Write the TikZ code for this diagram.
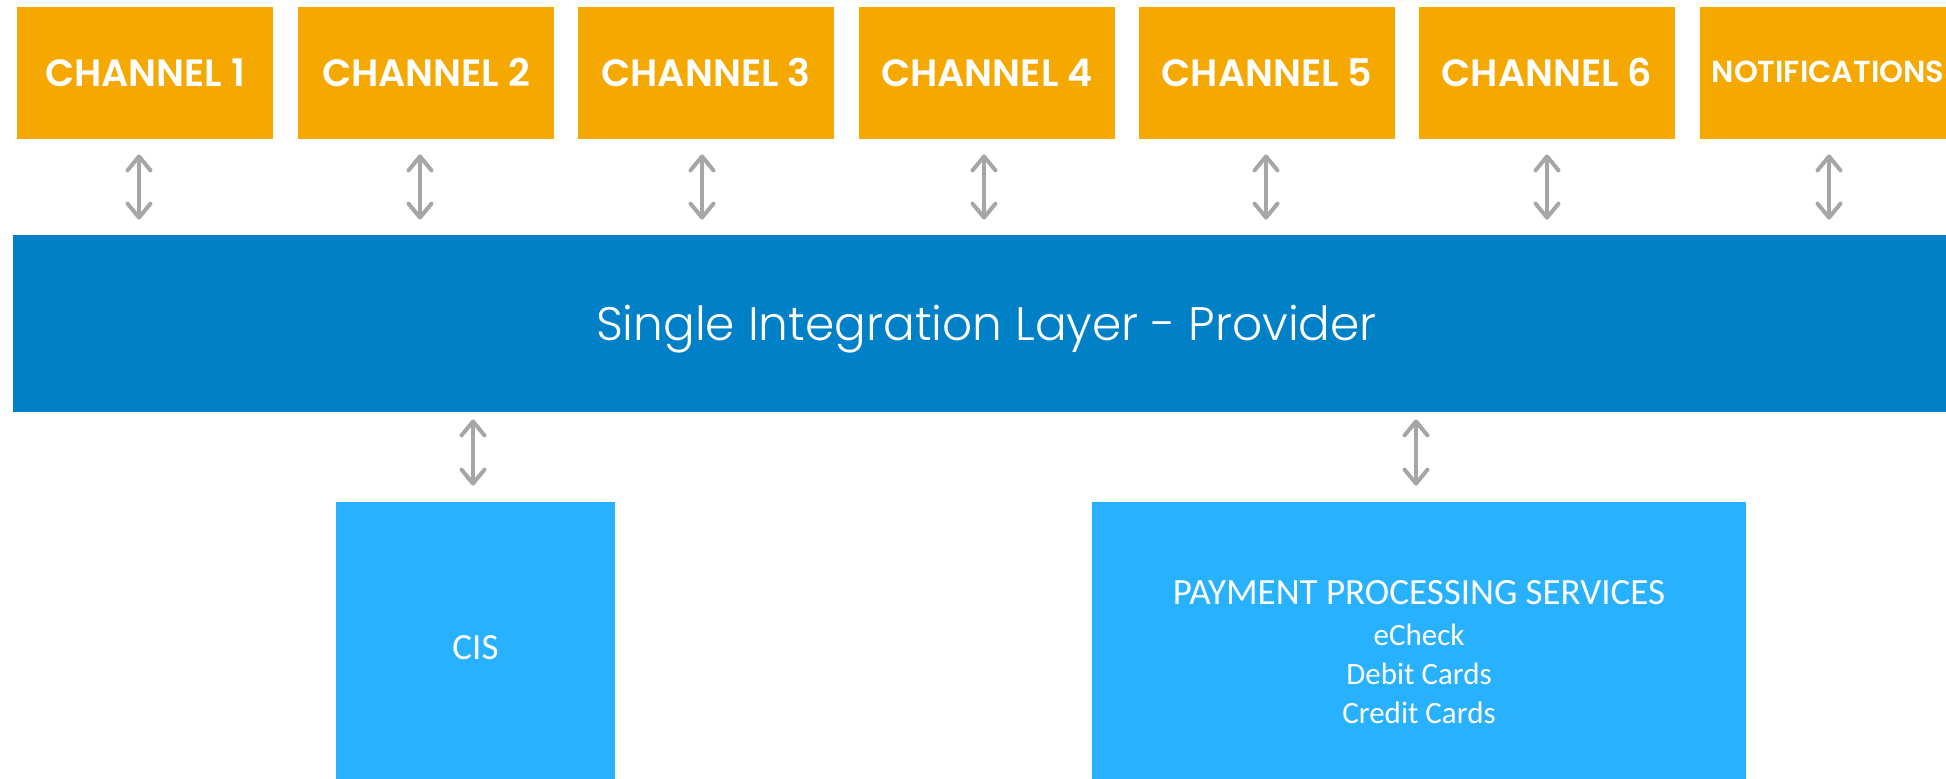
\documentclass[tikz,border=0pt]{standalone}
\usepackage{fontspec}
\setmainfont{Carlito}
\newfontfamily\gothicsb{Poppins SemiBold}
\newfontfamily\gothiclight{Poppins Light}
\usetikzlibrary{arrows.meta}
\definecolor{orangebox}{HTML}{F5A900}
\definecolor{barblue}{HTML}{0080C6}
\definecolor{lightblue}{HTML}{27B1FF}
\definecolor{arrowgrey}{HTML}{A6A6A6}
\begin{document}
\begin{tikzpicture}[x=0.5pt,y=-0.5pt,
  chan/.style={fill=orangebox,text=white,minimum width=128pt,minimum height=66pt,inner sep=0pt,
    text height=13.5pt,text depth=0pt,font=\gothicsb\fontsize{19}{22}\selectfont},
  biarrow/.style={draw=arrowgrey,line width=2pt,line cap=round,
    {Straight Barb[length=7pt,width=11.5pt,round]}-{Straight Barb[length=7pt,width=11.5pt,round]}},
  sysbox/.style={fill=lightblue,text=white,inner sep=0pt}]
\useasboundingbox (0,0) rectangle (1946,778);
\node[chan] (ch1) at (145,73) {CHANNEL 1};
\node[chan] (ch2) at (426,73) {CHANNEL 2};
\node[chan] (ch3) at (706,73) {CHANNEL 3};
\node[chan] (ch4) at (987,73) {CHANNEL 4};
\node[chan] (ch5) at (1267,73) {CHANNEL 5};
\node[chan] (ch6) at (1547,73) {CHANNEL 6};
\node[chan,minimum width=128pt,text height=9pt,font=\gothicsb\fontsize{15.2}{20}\selectfont] (notif) at (1828,73) {NOTIFICATIONS};
\node[fill=barblue,text=white,minimum width=973.5pt,minimum height=88.5pt,inner sep=0pt,
  text height=16.5pt,text depth=0pt,font=\gothiclight\fontsize{23.5}{30}\selectfont] (bar) at (986.5,323.5)
  {Single Integration Layer - Provider};
\fill[orangebox] (notif.north east) rectangle (1960,139);
\node[sysbox,minimum width=139.5pt,minimum height=145pt,text height=12pt,text depth=0pt,
  font=\fontsize{18.5}{22}\selectfont] (cis) at (475.5,647) {CIS};
\node[sysbox,minimum width=327pt,minimum height=150pt,align=center,
  font=\fontsize{15.5}{19.5}\selectfont] (pay) at (1419,652)
  {{\fontsize{18.5}{20}\selectfont PAYMENT PROCESSING SERVICES}\\[0.6pt]eCheck\\Debit Cards\\Credit Cards};
\foreach \c/\s in {ch1/-3pt,ch2/-3pt,ch3/-2pt,ch4/-1.5pt,ch5/-0.5pt,ch6/0pt,notif/0.5pt}{
  \draw[biarrow,shorten <=7.5pt,shorten >=7.5pt] ([xshift=\s]\c.south) -- ([xshift=\s]\c.south |- bar.north);
}
\draw[biarrow,shorten <=3.5pt,shorten >=8pt] ([xshift=-1.25pt]cis.north |- bar.south) -- ([xshift=-1.25pt]cis.north);
\draw[biarrow,shorten <=3.5pt,shorten >=8pt] ([xshift=-1.5pt]pay.north |- bar.south) -- ([xshift=-1.5pt]pay.north);
\end{tikzpicture}
\end{document}
